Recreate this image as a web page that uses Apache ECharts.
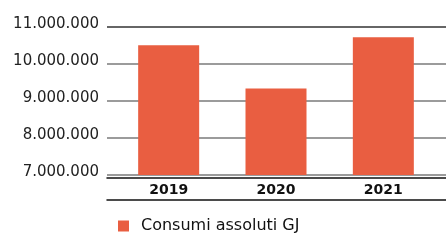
<!DOCTYPE html>
<html>
<head>
<meta charset="utf-8">
<script src="https://cdn.jsdelivr.net/npm/echarts@6/dist/echarts.min.js"></script>
<style>
  html, body { margin: 0; padding: 0; background: #fff; }
  #chart { width: 446px; height: 245px; }
</style>
</head>
<body>
<div id="chart"></div>
<script>
const years = ['2019', '2020', '2021']
const consumi = [10510000, 9335000, 10725000]
const seriesName = 'Consumi assoluti GJ'

const yMin = 7000000
const yMax = 11000000
const yStep = 1000000

// 10000000 -> 10.000.000
function fmt(v) {
  return String(v).replace(/\B(?=(\d{3})+(?!\d))/g, '.')
}

const chart = echarts.init(document.getElementById('chart'))

const option = {
  animation: false,
  textStyle: { fontFamily: 'DejaVu Sans' },
  grid: [
    // grid lines + y labels, wider than the bars
    { left: 107, right: 0, top: 27, height: 148 },
    // bars
    { left: 115, right: 9, top: 27, height: 148 }
  ],
  xAxis: [
    {
      gridIndex: 0, type: 'category', data: years, position: 'bottom', offset: 3,
      axisLine: { lineStyle: { color: '#111', width: 1.5 } },
      axisTick: { show: false }, axisLabel: { show: false }
    },
    {
      gridIndex: 0, type: 'category', data: years, position: 'bottom', offset: 25,
      axisLine: { lineStyle: { color: '#111', width: 1.5 } },
      axisTick: { show: false }, axisLabel: { show: false }
    },
    {
      gridIndex: 1, type: 'category', data: years,
      axisLine: { show: false }, axisTick: { show: false },
      axisLabel: { margin: 8, fontSize: 14, fontWeight: 'bold', color: '#111', fontFamily: 'DejaVu Sans' }
    }
  ],
  yAxis: [
    {
      gridIndex: 0, type: 'value', min: yMin, max: yMax, interval: yStep,
      axisLine: { show: false }, axisTick: { show: false },
      splitLine: { lineStyle: { color: ['#7a7a7a', '#7a7a7a', '#7a7a7a', '#7a7a7a', '#333'], width: 1.5 } },
      axisLabel: {
        formatter: fmt, margin: 8, fontSize: 15, color: '#222',
        fontFamily: 'DejaVu Sans', verticalAlign: 'bottom', lineHeight: 6
      }
    },
    {
      gridIndex: 1, type: 'value', min: yMin, max: yMax, interval: yStep,
      show: false
    }
  ],
  legend: {
    left: 118, top: 218, padding: 0,
    icon: 'rect', itemWidth: 11, itemHeight: 11,
    textStyle: { fontSize: 16, color: '#111', fontFamily: 'DejaVu Sans', padding: [0, 0, 0, 7] },
    data: [seriesName]
  },
  series: [
    {
      name: seriesName, type: 'bar', xAxisIndex: 2, yAxisIndex: 1,
      data: consumi, barWidth: 61,
      itemStyle: { color: '#e95e41' }
    }
  ]
}

chart.setOption(option)
</script>
</body>
</html>
